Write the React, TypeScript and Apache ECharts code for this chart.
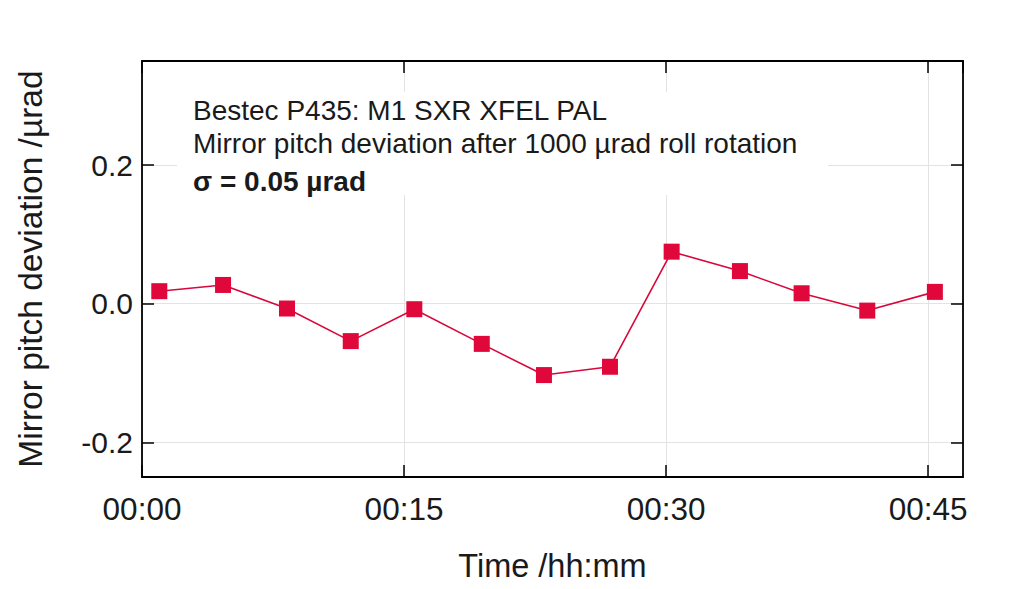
import React, { useEffect, useRef } from "react";
import * as echarts from "echarts";

// Elapsed time in minutes and mirror pitch deviation in µrad
const times = [0.99, 4.64, 8.3, 11.95, 15.59, 19.45, 23.01, 26.79, 30.32, 34.23, 37.76, 41.52, 45.39];
const deviations = [0.018, 0.027, -0.007, -0.054, -0.008, -0.058, -0.103, -0.091, 0.075, 0.047, 0.015, -0.01, 0.017];
const xTicksMinutes = [0, 15, 30, 45];
const annotationLines = [
  "Bestec P435: M1 SXR XFEL PAL",
  "Mirror pitch deviation after 1000 µrad roll rotation",
  "σ = 0.05 µrad",
];

const FONT = "Liberation Sans";
const TXT = "#1a1a1a";

const fmtTime = (v: number) => {
  const m = Math.round(v);
  return "00:" + String(m).padStart(2, "0");
};

export default function App() {
  const ref = useRef<HTMLDivElement>(null);
  useEffect(() => {
    if (!ref.current) return;
    const chart = echarts.init(ref.current, null, { renderer: "svg" });
    const data = times.map((t, i) => [t, deviations[i]]);
    const tickLine = { show: true, inside: true, length: 12, lineStyle: { color: "#000", width: 1.5 } };
    const axisLine = { show: true, onZero: false, lineStyle: { color: "#000", width: 1.8 } };
    const xCommon = {
      type: "value",
      min: 0,
      max: 47,
      interval: 15,
      axisLine,
      axisTick: tickLine,
    };
    const yCommon = {
      type: "value",
      min: -0.25,
      max: 0.35,
      splitNumber: 3,
      minInterval: 0.2,
      maxInterval: 0.2,
      axisLine,
      axisTick: tickLine,
    };
    chart.setOption({
      animation: false,
      backgroundColor: "#fff",
      grid: { left: 142, right: 61, top: 61, bottom: 112, containLabel: false },
      xAxis: [
        {
          ...xCommon,
          position: "bottom",
          name: "Time /hh:mm",
          nameLocation: "middle",
          nameGap: 72,
          nameTextStyle: { fontFamily: FONT, fontSize: 32.5, color: TXT },
          axisLabel: {
            show: true,
            margin: 16,
            fontFamily: FONT,
            fontSize: 31.5,
            color: TXT,
            showMaxLabel: false,
            formatter: (v: number) => (xTicksMinutes.includes(v) ? fmtTime(v) : ""),
          },
          splitLine: { show: true, lineStyle: { color: "#e3e3e3", width: 1 } },
        },
        {
          ...xCommon,
          position: "top",
          axisLabel: { show: false },
          splitLine: { show: false },
        },
      ],
      yAxis: [
        {
          ...yCommon,
          position: "left",
          name: "Mirror pitch deviation /µrad",
          nameLocation: "middle",
          nameRotate: 90,
          nameGap: 95,
          nameTextStyle: { fontFamily: FONT, fontSize: 33.5, color: TXT },
          axisLabel: {
            show: true,
            margin: 9,
            fontFamily: FONT,
            fontSize: 30,
            color: TXT,
            showMinLabel: false,
            showMaxLabel: false,
            formatter: (v: number) => v.toFixed(1),
          },
          splitLine: { show: true, lineStyle: { color: "#e3e3e3", width: 1 } },
        },
        {
          ...yCommon,
          position: "right",
          axisLabel: { show: false },
          splitLine: { show: false },
        },
      ],
      graphic: [
        {
          type: "group",
          z: 10,
          children: [
            {
              type: "rect",
              shape: { x: 177, y: 92, width: 651, height: 103 },
              style: { fill: "#fff" },
              z: 10,
            },
            ...annotationLines.map((line, i) => ({
              type: "text",
              x: 193,
              y: [110, 143, 181][i],
              z: 11,
              style: {
                text: line,
                fontFamily: FONT,
                fontSize: 28,
                fontWeight: i === 2 ? "bold" : "normal",
                fill: TXT,
                textVerticalAlign: "middle",
                verticalAlign: "middle",
              },
            })),
          ],
        },
      ],
      series: [
        {
          type: "line",
          xAxisIndex: 0,
          yAxisIndex: 0,
          data,
          symbol: "rect",
          symbolSize: 16,
          lineStyle: { color: "#d8083c", width: 1.6 },
          itemStyle: { color: "#e0073a" },
          z: 5,
        },
      ],
    });
    return () => chart.dispose();
  }, []);
  return (
    <div
      ref={ref}
      style={{ position: "absolute", left: 0, top: 0, width: 1024, height: 589 }}
    />
  );
}
